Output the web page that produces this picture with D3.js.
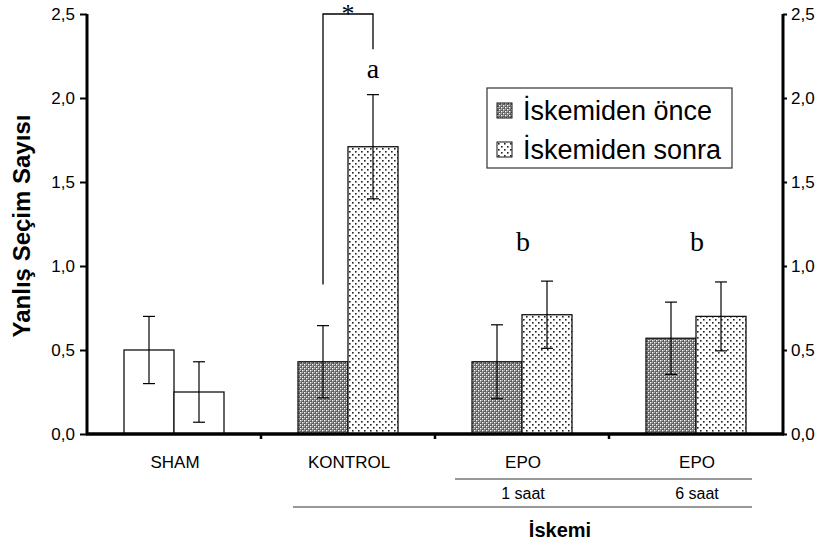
<!DOCTYPE html>
<html>
<head>
<meta charset="utf-8">
<script src="https://cdn.jsdelivr.net/npm/d3@7"></script>
<style>
  body { margin: 0; background: #fff; }
  text { font-family: "Liberation Sans", Arial, sans-serif; }
  .serif { font-family: "Liberation Serif", "Times New Roman", serif; }
</style>
</head>
<body>
<div id="chart"></div>
<script>
// groups on the x axis
var groups = ["SHAM", "KONTROL", "EPO1", "EPO6"];
var groupLabels = ["SHAM", "KONTROL", "EPO", "EPO"];
var subLabels = ["", "", "1 saat", "6 saat"];
var series = ["İskemiden önce", "İskemiden sonra"];

// means and error limits
var before = [0.50, 0.43, 0.43, 0.57];
var beforeErr = [0.20, 0.215, 0.22, 0.215];
var after = [0.25, 1.71, 0.71, 0.70];
var afterErr = [0.18, 0.31, 0.20, 0.205];
var letters = ["", "a", "b", "b"];
var letterY = [0, 2.12, 1.09, 1.09];
var yTicks = [0, 0.5, 1.0, 1.5, 2.0, 2.5];

var W = 826, H = 546;
var axLeft = 87, axRight = 783, axTop = 14, axBottom = 434;

var svg = d3.select("#chart").append("svg")
  .attr("width", W).attr("height", H);

// fill patterns
var defs = svg.append("defs");
var hatch = defs.append("pattern").attr("id", "hatch")
  .attr("patternUnits", "userSpaceOnUse").attr("width", 4).attr("height", 4);
hatch.append("rect").attr("width", 4).attr("height", 4).attr("fill", "#5c5c5c");
hatch.append("rect").attr("x", 0).attr("y", 0).attr("width", 1.4).attr("height", 1.4).attr("fill", "#fff");
hatch.append("rect").attr("x", 2).attr("y", 2).attr("width", 1.4).attr("height", 1.4).attr("fill", "#fff");
hatch.append("rect").attr("x", 2).attr("y", 0).attr("width", 1).attr("height", 1).attr("fill", "#b0b0b0");
hatch.append("rect").attr("x", 0).attr("y", 2).attr("width", 1).attr("height", 1).attr("fill", "#b0b0b0");

var dots = defs.append("pattern").attr("id", "dots")
  .attr("patternUnits", "userSpaceOnUse").attr("width", 6).attr("height", 6);
dots.append("rect").attr("width", 6).attr("height", 6).attr("fill", "#fff");
dots.append("rect").attr("x", 1).attr("y", 1).attr("width", 1.6).attr("height", 1.6).attr("fill", "#222");
dots.append("rect").attr("x", 4).attr("y", 4).attr("width", 1.6).attr("height", 1.6).attr("fill", "#222");

// scales
var x = d3.scaleBand().domain(groups).range([axLeft, axRight]);
var xSub = d3.scaleBand().domain(series).range([37, 137]);
var y = d3.scaleLinear().domain([0, 2.5]).range([axBottom, axTop]);

var rows = groups.map(function(g, i) {
  return [
    { g: g, i: i, key: series[0], v: before[i], e: beforeErr[i] },
    { g: g, i: i, key: series[1], v: after[i], e: afterErr[i] }
  ];
});
var flat = [].concat.apply([], rows);

function fillFor(d) {
  if (d.g === "SHAM") return "#fff";
  return d.key === series[0] ? "url(#hatch)" : "url(#dots)";
}

// bars
svg.selectAll(".bar").data(flat).enter().append("rect")
  .attr("class", "bar")
  .attr("x", function(d) { return x(d.g) + xSub(d.key); })
  .attr("y", function(d) { return y(d.v); })
  .attr("width", xSub.bandwidth())
  .attr("height", function(d) { return y(0) - y(d.v); })
  .attr("fill", fillFor)
  .attr("stroke", "#111")
  .attr("stroke-width", 1.3);

// error bars
var eb = svg.selectAll(".err").data(flat).enter().append("g").attr("class", "err")
  .attr("transform", function(d) {
    return "translate(" + (x(d.g) + xSub(d.key) + xSub.bandwidth() / 2) + ",0)";
  });
eb.append("line").attr("x1", 0).attr("x2", 0)
  .attr("y1", function(d) { return y(d.v - d.e); })
  .attr("y2", function(d) { return y(d.v + d.e); })
  .attr("stroke", "#000").attr("stroke-width", 1.2);
eb.append("line").attr("x1", -6).attr("x2", 6)
  .attr("y1", function(d) { return y(d.v + d.e); })
  .attr("y2", function(d) { return y(d.v + d.e); })
  .attr("stroke", "#000").attr("stroke-width", 1.2);
eb.append("line").attr("x1", -6).attr("x2", 6)
  .attr("y1", function(d) { return y(d.v - d.e); })
  .attr("y2", function(d) { return y(d.v - d.e); })
  .attr("stroke", "#000").attr("stroke-width", 1.2);

// significance bracket between KONTROL bars
var bx1 = x("KONTROL") + xSub(series[0]) + xSub.bandwidth() / 2;
var bx2 = x("KONTROL") + xSub(series[1]) + xSub.bandwidth() / 2;
svg.append("path")
  .attr("d", "M" + bx1 + "," + y(0.89) + "V" + y(2.5) + "H" + bx2 + "V" + y(2.29))
  .attr("fill", "none").attr("stroke", "#000").attr("stroke-width", 1.3);
svg.append("text").attr("class", "serif")
  .attr("x", (bx1 + bx2) / 2).attr("y", 22)
  .attr("text-anchor", "middle").attr("font-size", 26).text("*");

// letters
svg.selectAll(".letter").data(letters).enter().append("text")
  .attr("class", "serif")
  .attr("x", function(d, i) {
    if (i === 1) return bx2;
    return x(groups[i]) + x.bandwidth() / 2 + 1;
  })
  .attr("y", function(d, i) { return y(letterY[i]); })
  .attr("text-anchor", "middle").attr("font-size", 28)
  .text(function(d) { return d; });

// axes
var fmt = function(d) { return d3.format(".1f")(d).replace(".", ","); };
var yl = svg.append("g").attr("transform", "translate(" + axLeft + ",0)")
  .call(d3.axisLeft(y).tickValues(yTicks).tickFormat(fmt).tickSize(7).tickPadding(5));
var yr = svg.append("g").attr("transform", "translate(" + axRight + ",0)")
  .call(d3.axisRight(y).tickValues(yTicks).tickFormat(fmt).tickSize(4).tickPadding(4));
[yl, yr].forEach(function(a) {
  a.select(".domain").attr("stroke-width", 3).attr("d",
    "M0," + axTop + "V" + axBottom);
  a.selectAll(".tick line").attr("stroke-width", 2);
  a.selectAll(".tick text").attr("font-size", 17).attr("fill", "#000")
    .attr("font-family", "Liberation Sans, Arial, sans-serif");
});

// x axis line and boundary ticks
svg.append("line").attr("x1", axLeft - 1).attr("x2", axRight + 1)
  .attr("y1", axBottom).attr("y2", axBottom)
  .attr("stroke", "#000").attr("stroke-width", 3.5);
svg.selectAll(".xtick").data(groups.slice(1)).enter().append("line")
  .attr("x1", function(d) { return x(d); }).attr("x2", function(d) { return x(d); })
  .attr("y1", axBottom).attr("y2", axBottom + 5)
  .attr("stroke", "#000").attr("stroke-width", 2.5);

// category labels
svg.selectAll(".glab").data(groups).enter().append("text")
  .attr("x", function(d) { return x(d) + x.bandwidth() / 2 + 1; })
  .attr("y", 468).attr("text-anchor", "middle").attr("font-size", 17)
  .text(function(d, i) { return groupLabels[i]; });
svg.selectAll(".slab").data(groups).enter().append("text")
  .attr("x", function(d) { return x(d) + x.bandwidth() / 2 + 1; })
  .attr("y", 499).attr("text-anchor", "middle").attr("font-size", 16)
  .text(function(d, i) { return subLabels[i]; });

svg.append("line")
  .attr("x1", x("EPO1") + 20).attr("x2", x("EPO6") + 143)
  .attr("y1", 479).attr("y2", 479).attr("stroke", "#333").attr("stroke-width", 1.2);
svg.append("line")
  .attr("x1", x("KONTROL") + 32).attr("x2", x("EPO6") + 143)
  .attr("y1", 507).attr("y2", 507).attr("stroke", "#333").attr("stroke-width", 1.2);
svg.append("text").attr("x", 560).attr("y", 537)
  .attr("text-anchor", "middle").attr("font-size", 20).attr("font-weight", "bold")
  .text("İskemi");

// y axis title
svg.append("text")
  .attr("transform", "translate(30,226) rotate(-90)")
  .attr("text-anchor", "middle").attr("font-size", 24).attr("font-weight", "bold")
  .text("Yanlış Seçim Sayısı");

// legend
var lg = svg.append("g");
lg.append("rect").attr("x", 487).attr("y", 88).attr("width", 245).attr("height", 80)
  .attr("fill", "#fff").attr("stroke", "#333").attr("stroke-width", 1.2);
var li = lg.selectAll(".li").data(series).enter().append("g")
  .attr("transform", function(d, i) { return "translate(497," + (103 + i * 39) + ")"; });
li.append("rect").attr("width", 15).attr("height", 15)
  .attr("fill", function(d, i) { return i === 0 ? "url(#hatch)" : "url(#dots)"; })
  .attr("stroke", "#111").attr("stroke-width", 1);
li.append("text").attr("x", 26).attr("y", 17).attr("font-size", 27)
  .text(function(d) { return d; });
</script>
</body>
</html>
